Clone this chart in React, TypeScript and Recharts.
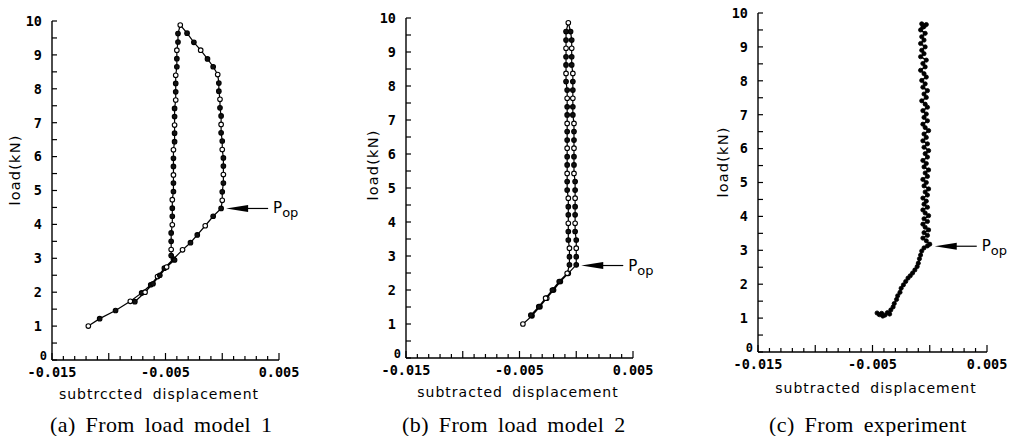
import React from 'react';
import { LineChart, Line, XAxis, YAxis, ReferenceDot } from 'recharts';

// [subtracted displacement, load (kN)]

// (a) load model 1
const model1Loading = [
  [-0.0118, 1.0], [-0.0108, 1.22], [-0.0094, 1.46], [-0.0081, 1.73], [-0.0071, 1.98],
  [-0.0063, 2.22], [-0.0057, 2.46], [-0.0051, 2.71], [-0.0043, 2.98], [-0.0035, 3.25],
  [-0.0028, 3.46], [-0.0022, 3.69], [-0.0015, 3.96], [-0.0008, 4.24], [-0.0001, 4.47],
];
const model1Right = [
  [0.0, 4.71], [0.0, 4.96], [0.0001, 5.22], [0.0001, 5.47], [0.0001, 5.72], [0.0001, 5.96],
  [0.0, 6.21], [0.0, 6.46], [-0.0001, 6.7], [-0.0001, 6.95], [-0.0001, 7.2], [-0.0002, 7.44],
  [-0.0002, 7.69], [-0.0003, 7.93], [-0.0003, 8.17], [-0.0004, 8.42],
];
const model1Top = [
  [-0.0008, 8.65], [-0.0013, 8.88], [-0.0019, 9.14], [-0.0025, 9.37], [-0.0031, 9.64], [-0.0037, 9.88],
];
const model1Left = [
  [-0.0039, 9.63], [-0.0039, 9.38], [-0.004, 9.14], [-0.004, 8.89], [-0.004, 8.65], [-0.0041, 8.4],
  [-0.0041, 8.16], [-0.0041, 7.91], [-0.0041, 7.67], [-0.0042, 7.42], [-0.0042, 7.18], [-0.0042, 6.93],
  [-0.0042, 6.69], [-0.0042, 6.44], [-0.0043, 6.2], [-0.0043, 5.95], [-0.0043, 5.71], [-0.0043, 5.46],
  [-0.0043, 5.22], [-0.0043, 4.97], [-0.0044, 4.73], [-0.0044, 4.48], [-0.0044, 4.24], [-0.0044, 3.99],
  [-0.0045, 3.75], [-0.0045, 3.5], [-0.0045, 3.26], [-0.0045, 3.08],
];
const model1Unloading = [
  [-0.0042, 2.95], [-0.0049, 2.74], [-0.0055, 2.5], [-0.0061, 2.25], [-0.0068, 2.0], [-0.0077, 1.72],
];

// (b) load model 2
const model2Loading = [
  [-0.0047, 1.0], [-0.0039, 1.24], [-0.0032, 1.51], [-0.0026, 1.76], [-0.002, 2.0],
  [-0.0014, 2.25], [-0.0007, 2.49], [0.0, 2.74],
];
const model2Right = [
  [0.0, 2.98], [0.0, 3.23], [0.0, 3.47], [-0.0001, 3.72], [-0.0001, 3.96], [-0.0001, 4.21],
  [-0.0001, 4.45], [-0.0001, 4.7], [-0.0001, 4.94], [-0.0001, 5.19], [-0.0002, 5.43], [-0.0002, 5.68],
  [-0.0002, 5.92], [-0.0002, 6.17], [-0.0002, 6.41], [-0.0002, 6.66], [-0.0002, 6.9], [-0.0003, 7.15],
  [-0.0003, 7.39], [-0.0003, 7.64], [-0.0003, 7.88], [-0.0003, 8.13], [-0.0003, 8.37], [-0.0004, 8.62],
  [-0.0004, 8.86], [-0.0004, 9.11], [-0.0004, 9.35], [-0.0005, 9.6],
];
const model2Left = [
  [-0.0007, 9.86], [-0.0009, 9.6], [-0.0009, 9.35], [-0.0009, 9.11], [-0.0009, 8.86], [-0.0009, 8.62],
  [-0.0009, 8.37], [-0.0009, 8.13], [-0.0008, 7.88], [-0.0008, 7.64], [-0.0008, 7.39], [-0.0008, 7.15],
  [-0.0008, 6.9], [-0.0008, 6.66], [-0.0008, 6.41], [-0.0008, 6.17], [-0.0008, 5.92], [-0.0008, 5.68],
  [-0.0008, 5.43], [-0.0008, 5.19], [-0.0008, 4.94], [-0.0007, 4.7], [-0.0007, 4.45], [-0.0007, 4.21],
  [-0.0007, 3.96], [-0.0007, 3.72], [-0.0007, 3.47], [-0.0006, 3.23], [-0.0006, 2.98], [-0.0006, 2.74],
];
const model2Unloading = [
  [-0.0008, 2.49], [-0.0015, 2.25], [-0.0021, 2.0], [-0.0027, 1.76], [-0.0033, 1.51], [-0.004, 1.26],
];

// (c) experiment
const expLoading = [
  [-0.0046, 1.15], [-0.0044, 1.1], [-0.0042, 1.14], [-0.0041, 1.06], [-0.0039, 1.09], [-0.0037, 1.16],
  [-0.0035, 1.12], [-0.0034, 1.24], [-0.0032, 1.33], [-0.0031, 1.43], [-0.0029, 1.55], [-0.0028, 1.66],
  [-0.0026, 1.76], [-0.0025, 1.88], [-0.0023, 1.98], [-0.0021, 2.08], [-0.0019, 2.18], [-0.0017, 2.25],
  [-0.0015, 2.33], [-0.0013, 2.42], [-0.0011, 2.52], [-0.001, 2.62], [-0.0009, 2.75], [-0.0008, 2.86],
  [-0.0007, 2.98], [-0.0005, 3.07], [-0.0002, 3.13], [0.0, 3.18],
];
const expColumn = [
  [-0.0003, 3.28], [-0.0006, 3.36], [-0.0002, 3.44], [-0.0005, 3.52], [-0.0001, 3.6], [-0.0004, 3.68],
  [-0.0006, 3.77], [-0.0002, 3.85], [-0.0005, 3.93], [-0.0001, 4.02], [-0.0004, 4.1], [-0.0006, 4.19],
  [-0.0002, 4.27], [-0.0005, 4.36], [-0.0003, 4.45], [-0.0006, 4.54], [-0.0002, 4.63], [-0.0004, 4.72],
  [-0.0001, 4.81], [-0.0005, 4.9], [-0.0003, 5.0], [-0.0006, 5.09], [-0.0002, 5.18], [-0.0004, 5.28],
  [-0.0001, 5.37], [-0.0005, 5.46], [-0.0003, 5.56], [-0.0006, 5.65], [-0.0002, 5.75], [-0.0004, 5.85],
  [-0.0001, 5.94], [-0.0005, 6.04], [-0.0002, 6.14], [-0.0006, 6.23], [-0.0003, 6.33], [-0.0005, 6.43],
  [-0.0001, 6.53], [-0.0004, 6.62], [-0.0006, 6.72], [-0.0002, 6.82], [-0.0005, 6.92], [-0.0003, 7.02],
  [-0.0006, 7.12], [-0.0002, 7.22], [-0.0004, 7.31], [-0.0007, 7.41], [-0.0003, 7.51], [-0.0005, 7.61],
  [-0.0002, 7.71], [-0.0006, 7.81], [-0.0004, 7.91], [-0.0007, 8.01], [-0.0003, 8.11], [-0.0005, 8.21],
  [-0.0008, 8.31], [-0.0004, 8.41], [-0.0006, 8.51], [-0.0003, 8.61], [-0.0008, 8.71], [-0.0005, 8.8],
  [-0.0007, 8.9], [-0.0004, 9.0], [-0.0008, 9.1], [-0.0005, 9.2], [-0.0007, 9.3], [-0.0004, 9.4],
  [-0.0008, 9.5], [-0.0005, 9.6], [-0.0007, 9.68], [-0.0003, 9.66], [-0.0006, 9.58],
];

// opening load P_op for each panel
const popModel1 = [-0.0001, 4.47];
const popModel2 = [0.0, 2.72];
const popExp = [0.0, 3.12];

const xTicks = [
  -0.015, -0.014, -0.013, -0.012, -0.011, -0.01, -0.009, -0.008, -0.007, -0.006, -0.005,
  -0.004, -0.003, -0.002, -0.001, 0, 0.001, 0.002, 0.003, 0.004, 0.005,
];
const xLabelValues = [-0.015, -0.005, 0.005];
const xLabels = ['-0.015', '-0.005', '0.005'];
const yTicks = [0, 0.5, 1, 1.5, 2, 2.5, 3, 3.5, 4, 4.5, 5, 5.5, 6, 6.5, 7, 7.5, 8, 8.5, 9, 9.5, 10];
const yLabels = ['0', '1', '2', '3', '4', '5', '6', '7', '8', '9', '10'];

const toPoints = (...segs: number[][][]) => segs.flat().map(([x, y]) => ({ x, y }));

const tickFont = '"DejaVu Sans Mono", monospace';
const titleFont = '"DejaVu Sans", sans-serif';

function XTick(props: any) {
  const { x, y, payload } = props;
  const i = xLabelValues.findIndex((v) => Math.abs(v - payload.value) < 1e-7);
  const major = Math.abs(Math.round(payload.value * 200) - payload.value * 200) < 1e-6;
  return (
    <g>
      <line x1={x} y1={y} x2={x} y2={y - (major ? 7 : 4)} stroke="#000" strokeWidth={1.2} />
      {i >= 0 && (
        <text x={x} y={y + 12} dy="0.36em" textAnchor="middle" fontFamily={tickFont} fontSize={13.5} fontWeight={700} fill="#000">
          {xLabels[i]}
        </text>
      )}
    </g>
  );
}

function YTick(props: any) {
  const { x, y, payload } = props;
  const v = payload.value;
  const isInt = Number.isInteger(v);
  const origin = v === 0;
  return (
    <g>
      <line x1={x} y1={y} x2={x + 5} y2={y} stroke="#000" strokeWidth={1.2} />
      {isInt && (
        <text
          x={origin ? x - 5 : x - 10}
          y={origin ? y - 4 : y}
          dy="0.36em"
          textAnchor="end"
          fontFamily={tickFont}
          fontSize={origin ? 12 : 13.5}
          fontWeight={700}
          fill="#000"
        >
          {yLabels[v]}
        </text>
      )}
    </g>
  );
}

function PopArrow(props: any) {
  const { cx, cy } = props;
  const tip = cx + 5;
  return (
    <g>
      <polygon points={`${tip},${cy} ${tip + 22},${cy - 3.5} ${tip + 22},${cy + 3.5}`} fill="#000" />
      <line x1={tip + 20} y1={cy} x2={cx + 47} y2={cy} stroke="#000" strokeWidth={1.2} />
      <text x={cx + 52} y={cy + 5} fontFamily={titleFont} fontSize={15} fill="#000">
        P<tspan dy={4} fontSize={13}>op</tspan>
      </text>
    </g>
  );
}

const ringDot = (p: any) => (
  <circle key={`d${p.index}`} cx={p.cx} cy={p.cy} r={2.3} fill={p.index % 3 === 0 ? '#fff' : '#111'} stroke="#000" strokeWidth={1.1} />
);
const blobDot = (p: any) => (
  <circle key={`d${p.index}`} cx={p.cx} cy={p.cy} r={2.1} fill="#000" stroke="#000" strokeWidth={0.8} />
);

type PanelProps = {
  left: number;
  width: number;
  yAxisWidth: number;
  top: number;
  right: number;
  bottom: number;
  data: { x: number; y: number }[];
  dot: (p: any) => React.ReactElement;
  lineWidth: number;
  pop: number[];
  yTitle: number[];
  xTitle: number[];
  xTitleText: string;
  captionX: number;
  caption: string;
};

function Panel(p: PanelProps) {
  return (
    <div style={{ position: 'absolute', left: p.left, top: 0 }}>
      <LineChart width={p.width} height={436} data={p.data} margin={{ top: p.top, right: p.right, bottom: p.bottom, left: 0 }}>
        <XAxis
          type="number"
          dataKey="x"
          domain={[-0.015, 0.005]}
          ticks={xTicks}
          interval={0}
          tickSize={0}
          tickMargin={0}
          tickLine={false}
          tick={<XTick />}
          axisLine={{ stroke: '#000', strokeWidth: 1.4 }}
          height={30}
          allowDataOverflow
        />
        <YAxis
          type="number"
          domain={[0, 10]}
          ticks={yTicks}
          interval={0}
          tickSize={0}
          tickMargin={0}
          tickLine={false}
          tick={<YTick />}
          axisLine={{ stroke: '#000', strokeWidth: 1.4 }}
          width={p.yAxisWidth}
          allowDataOverflow
        />
        <Line
          type="linear"
          dataKey="y"
          stroke="#000"
          strokeWidth={p.lineWidth}
          dot={p.dot}
          activeDot={false}
          isAnimationActive={false}
        />
        <ReferenceDot x={p.pop[0]} y={p.pop[1]} shape={<PopArrow />} />
        <text
          x={p.yTitle[0]}
          y={p.yTitle[1]}
          transform={`rotate(-90 ${p.yTitle[0]} ${p.yTitle[1]})`}
          textAnchor="middle"
          dy="0.35em"
          fontFamily={titleFont}
          fontSize={14.5}
          letterSpacing={1.2}
          fill="#000"
        >
          load(kN)
        </text>
        <text x={p.xTitle[0]} y={p.xTitle[1]} textAnchor="middle" fontFamily={titleFont} fontSize={14} letterSpacing={1} wordSpacing={4} fill="#000">
          {p.xTitleText}
        </text>
        <text x={p.captionX} y={432} fontFamily='"Liberation Serif", serif' fontSize={22} letterSpacing={0.4} wordSpacing={4} fill="#000">
          {p.caption}
        </text>
      </LineChart>
    </div>
  );
}

export default function App() {
  return (
    <div style={{ position: 'absolute', left: 0, top: 0, width: 1012, height: 436, background: '#fff', overflow: 'hidden' }}>
      <Panel
        left={0}
        width={340}
        yAxisWidth={52}
        top={21}
        right={61}
        bottom={46}
        data={toPoints(model1Loading, model1Right, model1Top, model1Left, model1Unloading)}
        dot={ringDot}
        lineWidth={1.2}
        pop={popModel1}
        yTitle={[15, 170]}
        xTitle={[159, 399]}
        xTitleText="subtrccted displacement"
        captionX={50}
        caption="(a) From load model 1"
      />
      <Panel
        left={340}
        width={336}
        yAxisWidth={66}
        top={18}
        right={43}
        bottom={48}
        data={toPoints(model2Loading, model2Right, model2Left, model2Unloading)}
        dot={ringDot}
        lineWidth={1.2}
        pop={popModel2}
        yTitle={[33, 165]}
        xTitle={[178, 397]}
        xTitleText="subtracted displacement"
        captionX={62}
        caption="(b) From load model 2"
      />
      <Panel
        left={676}
        width={336}
        yAxisWidth={82}
        top={13}
        right={25}
        bottom={54}
        data={toPoints(expLoading, expColumn)}
        dot={blobDot}
        lineWidth={1.6}
        pop={popExp}
        yTitle={[47, 162]}
        xTitle={[200, 393]}
        xTitleText="subtracted displacement"
        captionX={93}
        caption="(c) From experiment"
      />
    </div>
  );
}
